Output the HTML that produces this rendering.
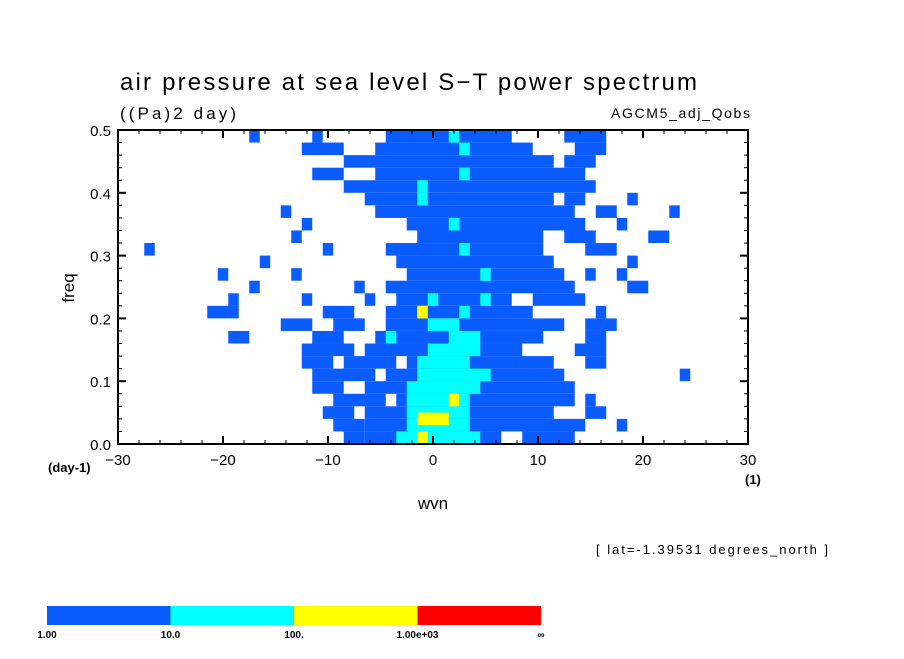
<!DOCTYPE html>
<html><head><meta charset="utf-8"><style>
body{margin:0;background:#fff;width:904px;height:654px;overflow:hidden}
svg text{font-family:"Liberation Sans",sans-serif;fill:#000}
</style></head><body>
<svg id="chart" width="904" height="654" viewBox="0 0 904 654" xmlns="http://www.w3.org/2000/svg">
<text x="120" y="90" font-size="24" textLength="577" lengthAdjust="spacing">air pressure at sea level S−T power spectrum</text>
<text x="120" y="119" font-size="17" textLength="116" lengthAdjust="spacing">((Pa)2 day)</text>
<text x="611" y="118" font-size="14" textLength="139" lengthAdjust="spacing">AGCM5_adj_Qobs</text>
<g id="cells"></g>
<g id="axes"></g>
<text x="48" y="472" font-size="13" font-weight="bold">(day-1)</text>
<text x="745" y="484" font-size="13" font-weight="bold">(1)</text>
<text x="433" y="509" font-size="17" text-anchor="middle">wvn</text>
<text x="0" y="0" font-size="17" text-anchor="middle" transform="translate(74,288) rotate(-90)">freq</text>
<text x="596" y="554" font-size="13" textLength="232" lengthAdjust="spacing">[ lat=-1.39531 degrees_north ]</text>
<g id="colorbar"></g>
</svg>
<script>
const xTicks=[-30,-20,-10,0,10,20,30];
const yTicks=[0,0.1,0.2,0.3,0.4,0.5];
const yTickLabels=["0.0","0.1","0.2","0.3","0.4","0.5"];
const levelColors=["#0a5cff","#00ffff","#ffff00","#ff0000"];
const levelLabels=["1.00","10.0","100.","1.00e+03","∞"];
const freqStep=0.02;
// [freqBottom, wvnFrom, wvnTo]
const blueRuns=[
[0.48,-17,-17],[0.48,-11,-11],[0.48,-4,7],[0.48,13,16],
[0.46,-12,-9],[0.46,-5,9],[0.46,14,16],
[0.44,-8,11],[0.44,13,15],
[0.42,-11,-9],[0.42,-5,14],
[0.40,-8,15],
[0.38,-6,11],[0.38,13,14],[0.38,19,19],
[0.36,-14,-14],[0.36,-5,13],[0.36,16,17],[0.36,23,23],
[0.34,-12,-12],[0.34,-2,14],[0.34,18,18],
[0.32,-13,-13],[0.32,-1,10],[0.32,13,15],[0.32,21,22],
[0.30,-27,-27],[0.30,-10,-10],[0.30,-4,10],[0.30,15,17],
[0.28,-16,-16],[0.28,-3,11],[0.28,19,19],
[0.26,-20,-20],[0.26,-13,-13],[0.26,-2,12],[0.26,15,15],[0.26,18,18],
[0.24,-17,-17],[0.24,-7,-7],[0.24,-4,13],[0.24,19,20],
[0.22,-19,-19],[0.22,-12,-12],[0.22,-6,-6],[0.22,-3,7],[0.22,10,14],
[0.20,-21,-19],[0.20,-10,-8],[0.20,-4,9],[0.20,16,16],
[0.18,-14,-12],[0.18,-9,-7],[0.18,-4,12],[0.18,15,17],
[0.16,-19,-18],[0.16,-11,-9],[0.16,-5,10],[0.16,15,16],
[0.14,-12,-8],[0.14,-6,8],[0.14,14,16],
[0.12,-12,-10],[0.12,-8,-4],[0.12,-2,11],[0.12,15,16],
[0.10,-11,-6],[0.10,-4,12],[0.10,24,24],
[0.08,-11,-9],[0.08,-6,13],
[0.06,-9,-5],[0.06,-3,13],[0.06,15,15],
[0.04,-10,-8],[0.04,-6,11],[0.04,15,16],
[0.02,-9,-7],[0.02,-6,14],[0.02,18,18],
[0.00,-8,-7],[0.00,-6,6],[0.00,9,13]
];
const cyanRuns=[
[0.48,2,2],[0.46,3,3],[0.42,3,3],[0.40,-1,-1],[0.38,-1,-1],[0.34,2,2],
[0.30,3,3],[0.26,5,5],[0.22,0,0],[0.22,5,5],[0.20,-1,-1],[0.20,3,3],
[0.18,0,2],[0.16,-4,-4],[0.16,2,4],[0.14,0,4],[0.12,-1,3],[0.10,-1,5],
[0.08,-2,4],[0.06,-2,3],[0.04,-2,3],[0.02,-2,3],[0.00,-3,4]
];
const yellowRuns=[[0.20,-1,-1],[0.06,2,2],[0.03,-1,1],[0.00,-1,-1]];
</script>
<script>
const NS="http://www.w3.org/2000/svg";
const L=118,R=748,T=130,B=444;
const x=w=>L+(w+30)/60*(R-L);
const y=f=>B-f/0.5*(B-T);
function mk(tag,attrs,parent){const e=document.createElementNS(NS,tag);for(const k in attrs)e.setAttribute(k,attrs[k]);parent.appendChild(e);return e;}
const cells=document.getElementById('cells');
[[blueRuns,levelColors[0]],[cyanRuns,levelColors[1]],[yellowRuns,levelColors[2]]].forEach(([runs,col])=>{
 runs.forEach(r=>{
  const x0=x(r[1]-0.5),x1=x(r[2]+0.5),y0=y(r[0]+freqStep),y1=y(r[0]);
  const e=mk('rect',{x:Math.max(L,x0),y:y0,width:Math.min(R,x1)-Math.max(L,x0),height:y1-y0,fill:col},cells);
  
  
 });
});
const ax=document.getElementById('axes');
const frame=mk('rect',{x:L,y:T,width:R-L,height:B-T,fill:'none',stroke:'#000','stroke-width':2},ax);


for(let w=-30;w<=30;w+=2){const len=xTicks.includes(w)?8:4;
 mk('line',{x1:x(w),x2:x(w),y1:B,y2:B-len,stroke:'#000','stroke-width':xTicks.includes(w)?2:1},ax);
 mk('line',{x1:x(w),x2:x(w),y1:T,y2:T+len,stroke:'#000','stroke-width':xTicks.includes(w)?2:1},ax);}
for(let i=0;i<=25;i++){const f=i*0.02;const maj=i%5===0;const len=maj?8:4;
 mk('line',{x1:L,x2:L+len,y1:y(f),y2:y(f),stroke:'#000','stroke-width':maj?2:1},ax);
 mk('line',{x1:R,x2:R-len,y1:y(f),y2:y(f),stroke:'#000','stroke-width':maj?2:1},ax);}
xTicks.forEach(w=>{const t=mk('text',{x:x(w),y:465,'font-size':15,'text-anchor':'middle'},ax);t.textContent=(w<0?'−':'')+Math.abs(w);
 
 });
yTicks.forEach((f,i)=>{const t=mk('text',{x:111,y:y(f)+6,'font-size':15,'text-anchor':'end'},ax);t.textContent=yTickLabels[i];
 
 });
const cb=document.getElementById('colorbar');
const cbL=47,cbW=494/4;
levelColors.forEach((c,i)=>{const r=mk('rect',{x:cbL+i*cbW,y:606,width:cbW,height:19,fill:c},cb);
 
 });
levelLabels.forEach((s,i)=>{const t=mk('text',{x:cbL+i*cbW,y:638,'font-size':10,'font-weight':'bold','text-anchor':'middle'},cb);t.textContent=s;
 
 });
</script>
</body></html>
